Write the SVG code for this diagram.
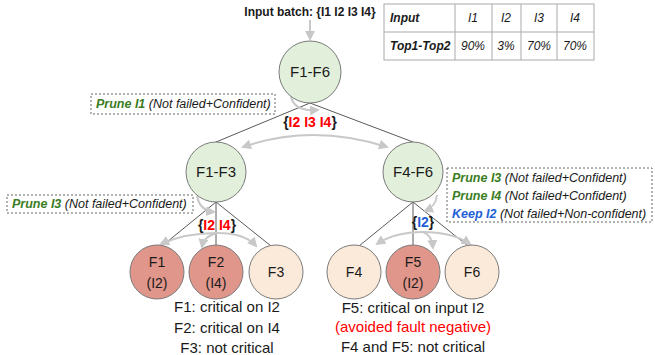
<svg xmlns="http://www.w3.org/2000/svg" width="655" height="355" viewBox="0 0 655 355">
<style>
text{font-family:"Liberation Sans",Arial,sans-serif;fill:#1a1a1a}
.node{stroke:#7a7a7a;stroke-width:1}
.g{fill:#e2efda}
.r{fill:#e0968a}
.p{fill:#fbe9d9}
.nl{font-size:15px;text-anchor:middle}
.ll{font-size:14px;text-anchor:middle}
.edge{stroke:#5a5a5a;stroke-width:1;fill:none}
.flow{stroke:#c8c8c8;stroke-width:2;fill:none}
.box{fill:#fff;stroke:#666;stroke-width:1;stroke-dasharray:2,2}
.bt{font-size:12.5px;font-style:italic}
.gr{fill:#3b7d23;font-weight:bold}
.bl{fill:#1f5fd8;font-weight:bold}
.red{fill:#ff0000}
.tb{stroke:#aaa;stroke-width:1;fill:#fff}
.tt{font-size:12px;font-style:italic}
.cap{font-size:15px;text-anchor:middle}
</style>
<defs>
<marker id="ah" viewBox="0 0 10 10" refX="8" refY="5" markerWidth="5" markerHeight="5" orient="auto-start-reverse"><path d="M0,0 L10,5 L0,10 z" fill="#c8c8c8"/></marker>
</defs>

<g id="table">
<rect class="tb" x="384" y="4" width="210" height="56"/>
<line class="tb" x1="384" y1="32" x2="594" y2="32"/>
<line class="tb" x1="455" y1="4" x2="455" y2="60"/>
<line class="tb" x1="492" y1="4" x2="492" y2="60"/>
<line class="tb" x1="521" y1="4" x2="521" y2="60"/>
<line class="tb" x1="557" y1="4" x2="557" y2="60"/>
<text class="tt" x="390" y="22" font-weight="bold">Input</text>
<text class="tt" x="473" y="22" text-anchor="middle">I1</text>
<text class="tt" x="506" y="22" text-anchor="middle">I2</text>
<text class="tt" x="539" y="22" text-anchor="middle">I3</text>
<text class="tt" x="575" y="22" text-anchor="middle">I4</text>
<text class="tt" x="390" y="50" font-weight="bold">Top1-Top2</text>
<text class="tt" x="473" y="50" text-anchor="middle">90%</text>
<text class="tt" x="506" y="50" text-anchor="middle">3%</text>
<text class="tt" x="539" y="50" text-anchor="middle">70%</text>
<text class="tt" x="575" y="50" text-anchor="middle">70%</text>
</g>

<g id="connectors">
<line class="edge" x1="310" y1="103" x2="216" y2="142"/>
<line class="edge" x1="310" y1="103" x2="413" y2="142" stroke="#000"/>
<line class="edge" x1="216" y1="202" x2="162" y2="246"/>
<line class="edge" x1="216" y1="202" x2="216" y2="245"/>
<line class="edge" x1="216" y1="202" x2="271" y2="246"/>
<line class="edge" x1="413" y1="202" x2="359" y2="246"/>
<line class="edge" x1="413" y1="202" x2="413" y2="245"/>
<line class="edge" x1="413" y1="202" x2="468" y2="246"/>
<path class="flow" d="M310,20 L310,39" marker-end="url(#ah)"/>
<path class="flow" d="M291,96 C293,108 305,111 318,110" marker-end="url(#ah)"/>
<path class="flow" d="M243,147 Q312,123 387,147" marker-start="url(#ah)" marker-end="url(#ah)"/>
<path class="flow" d="M197,196 C199,207 205,211 214,212" marker-end="url(#ah)"/>
<path class="flow" d="M217,233 Q185,233 161,244" marker-end="url(#ah)"/>
<path class="flow" d="M217,233 Q204,236 202,247" marker-end="url(#ah)"/>
<path class="flow" d="M217,233 Q245,233 256,246" marker-end="url(#ah)"/>
<path class="flow" d="M437,195 C436,204 432,208 425,211" marker-end="url(#ah)"/>
<path class="flow" d="M423,232 Q395,232 377,244" marker-end="url(#ah)"/>
<path class="flow" d="M423,232 Q432,235 433,248" marker-end="url(#ah)"/>
<path class="flow" d="M423,232 Q452,232 470,244" marker-end="url(#ah)"/>
</g>

<g id="input">
<text x="310" y="16" font-size="12" font-weight="bold" text-anchor="middle">Input batch: {I1 I2 I3 I4}</text>
</g>

<g id="n-root">
<circle class="node g" cx="310" cy="72" r="31"/>
<text class="nl" x="310" y="77">F1-F6</text>
</g>
<g id="n-f1f3">
<circle class="node g" cx="216" cy="172" r="30"/>
<text class="nl" x="216" y="177">F1-F3</text>
</g>
<g id="n-f4f6">
<circle class="node g" cx="413" cy="172" r="30"/>
<text class="nl" x="413" y="177">F4-F6</text>
</g>
<g id="n-f1">
<circle class="node r" cx="157" cy="272" r="27"/>
<text class="ll" x="157" y="267">F1</text>
<text class="ll" x="157" y="288">(I2)</text>
</g>
<g id="n-f2">
<circle class="node r" cx="216" cy="272" r="27"/>
<text class="ll" x="216" y="267">F2</text>
<text class="ll" x="216" y="288">(I4)</text>
</g>
<g id="n-f3">
<circle class="node p" cx="276" cy="272" r="27"/>
<text class="ll" x="276" y="277">F3</text>
</g>
<g id="n-f4">
<circle class="node p" cx="354" cy="272" r="27"/>
<text class="ll" x="354" y="277">F4</text>
</g>
<g id="n-f5">
<circle class="node r" cx="413" cy="272" r="27"/>
<text class="ll" x="413" y="267">F5</text>
<text class="ll" x="413" y="288">(I2)</text>
</g>
<g id="n-f6">
<circle class="node p" cx="472" cy="272" r="27"/>
<text class="ll" x="472" y="277">F6</text>
</g>

<g id="sets">
<text x="310" y="127" font-size="14" font-weight="bold" text-anchor="middle">{<tspan class="red">I2 I3 I4</tspan>}</text>
<text x="217" y="230" font-size="14" font-weight="bold" text-anchor="middle">{<tspan class="red">I2</tspan> <tspan class="red">I4</tspan>}</text>
<text x="423" y="227" font-size="14" font-weight="bold" text-anchor="middle">{<tspan class="bl">I2</tspan>}</text>
</g>

<g id="box-prune-i1">
<rect class="box" x="91" y="94" width="184" height="20"/>
<text class="bt" x="96" y="108"><tspan class="gr">Prune I1</tspan> (Not failed+Confident)</text>
</g>
<g id="box-prune-i3">
<rect class="box" x="7" y="195" width="186" height="18"/>
<text class="bt" x="12" y="208"><tspan class="gr">Prune I3</tspan> (Not failed+Confident)</text>
</g>
<g id="box-right">
<rect class="box" x="447" y="168" width="205" height="54"/>
<text class="bt" x="452" y="182"><tspan class="gr">Prune I3</tspan> (Not failed+Confident)</text>
<text class="bt" x="452" y="200"><tspan class="gr">Prune I4</tspan> (Not failed+Confident)</text>
<text class="bt" x="452" y="218"><tspan class="bl">Keep I2</tspan> (Not failed+Non-confident)</text>
</g>

<g id="captions">
<text class="cap" x="227" y="312">F1: critical on I2</text>
<text class="cap" x="227" y="333">F2: critical on I4</text>
<text class="cap" x="227" y="353">F3: not critical</text>
<text class="cap" x="413" y="313">F5: critical on input I2</text>
<text class="cap red" x="413" y="332">(avoided fault negative)</text>
<text class="cap" x="413" y="352">F4 and F5: not critical</text>
</g>
</svg>
